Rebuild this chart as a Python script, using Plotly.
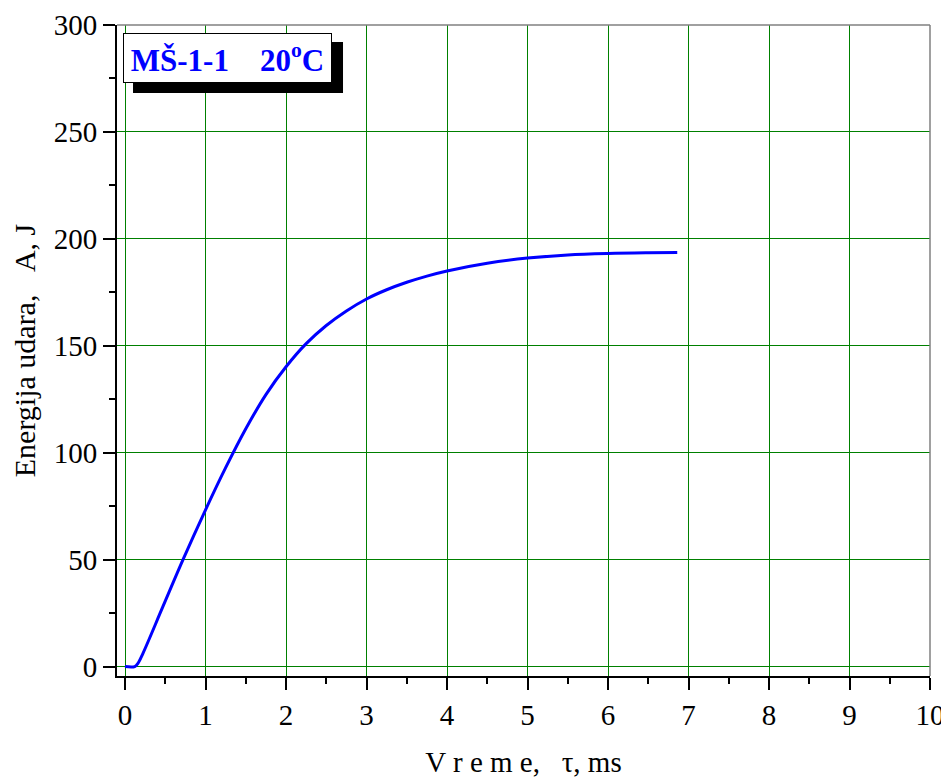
import plotly.graph_objects as go

# energy curve (ms, J)
tau_ms = [0, 0.12, 0.16, 0.22, 0.47, 0.72, 1.0, 1.25, 1.5, 1.75, 2.0,
          2.25, 2.5, 2.75, 3.0, 3.25, 3.5, 3.75, 4.0, 4.5, 5.0, 5.5,
          6.0, 6.5, 6.86]
energy_j = [0, 0, 1.5, 6, 28, 50, 73.3, 93, 111.2, 127.2, 140.2,
            151.0, 159.5, 166.3, 171.9, 176.2, 179.7, 182.6, 185.0, 188.6,
            191.0, 192.5, 193.2, 193.5, 193.6]

x_ticks = list(range(0, 11))
y_ticks = [0, 50, 100, 150, 200, 250, 300]

label_text = "<b>MŠ-1-1\u00a0\u00a0\u00a0\u00a020<sup>o</sup>C</b>"
x_title = "V r e m e,\u00a0\u00a0\u00a0τ, ms"
y_title = "Energija udara,\u00a0\u00a0\u00a0A, J"

serif = "Liberation Serif, Times New Roman, serif"
grid_green = "#008000"

fig = go.Figure()
fig.add_trace(go.Scatter(
    x=tau_ms, y=energy_j,
    mode="lines",
    line=dict(color="#0000FF", width=3, shape="spline", smoothing=1.0),
    showlegend=False,
    hoverinfo="skip"
))

axis_common = dict(
    automargin=False,
    showline=True, linecolor="black", linewidth=2,
    ticks="outside", ticklen=12, tickwidth=2, tickcolor="black",
    showgrid=True, gridcolor=grid_green, gridwidth=1,
    zeroline=True, zerolinecolor=grid_green, zerolinewidth=1,
    tickfont=dict(family=serif, size=29, color="black"),
)

fig.update_xaxes(
    range=[-0.1, 10], tickvals=x_ticks,
    minor=dict(ticks="outside", ticklen=6, tickwidth=2, tickcolor="black",
               dtick=0.5, tick0=0, showgrid=False),
    title_text=x_title, title_standoff=22,
    title_font=dict(family=serif, size=29, color="black"),
    **axis_common
)
fig.update_yaxes(
    range=[-4.4, 300], tickvals=y_ticks,
    minor=dict(ticks="outside", ticklen=6, tickwidth=2, tickcolor="black",
               dtick=25, tick0=0, showgrid=False),
    title_text=y_title, title_standoff=10,
    title_font=dict(family=serif, size=30, color="black"),
    **axis_common
)

# gray top/right frame
fig.add_shape(type="line", xref="paper", yref="paper", x0=0, x1=1, y0=1, y1=1,
              line=dict(color="#808080", width=1.5), layer="above")
fig.add_shape(type="line", xref="paper", yref="paper", x0=1, x1=1, y0=0, y1=1,
              line=dict(color="#808080", width=1.5), layer="above")

# shadow behind the label box
fig.add_shape(type="rect", xref="paper", yref="paper",
              x0=0.0197, x1=0.278, y0=0.8955, y1=0.9739,
              fillcolor="black", line=dict(width=0), layer="above")

fig.add_annotation(
    xref="paper", yref="paper", x=0.0074, y=0.988,
    xanchor="left", yanchor="top",
    text=label_text, showarrow=False,
    width=203, height=44, align="center", valign="middle",
    bgcolor="white", bordercolor="black", borderwidth=1, borderpad=2,
    font=dict(family=serif, size=31, color="#0000FF")
)

# the page body adds an 8px offset, so the figure is 8px smaller
fig.update_layout(
    width=941, height=774,
    margin=dict(l=109, r=19, t=17, b=106, autoexpand=False),
    plot_bgcolor="white", paper_bgcolor="white",
    font=dict(family=serif, color="black"),
)

fig.write_html("out.html")
